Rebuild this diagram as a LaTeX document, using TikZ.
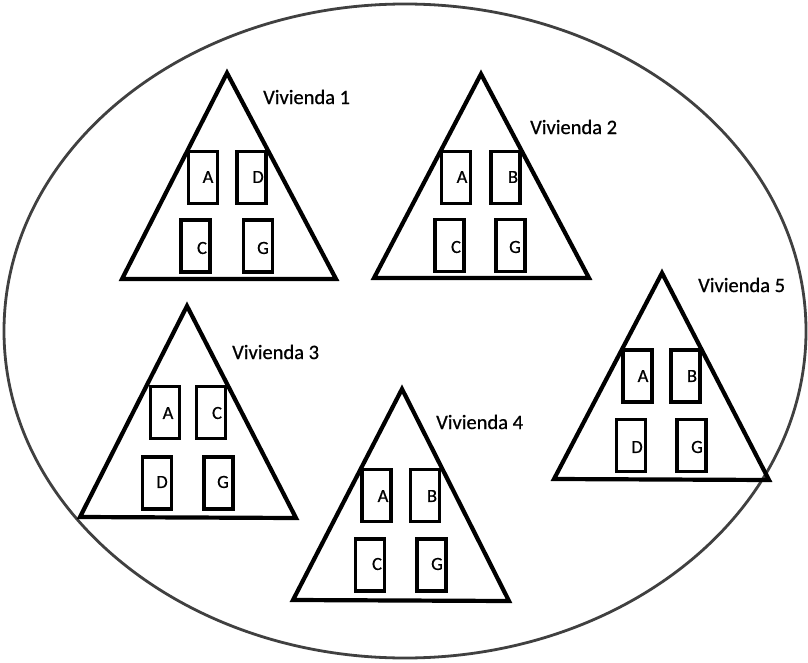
\documentclass[tikz,border=0pt]{standalone}
\usepackage{fontspec}
\setmainfont{Carlito}
\newfontfamily\scanfont[FakeBold=0.7]{Carlito}
\begin{document}
\begin{tikzpicture}[x=1pt,y=-1pt,
  roof/.style={line width=4.2pt, line join=miter, draw=black},
  door/.style={draw=black, line width=3.8pt, rectangle, inner sep=0pt, minimum width=29pt, minimum height=52pt},
  lbl/.style={font=\scanfont\fontsize{18.5}{18.5}\selectfont, inner sep=0pt},
  title/.style={font=\scanfont\fontsize{20.5}{20.5}\selectfont, anchor=west, inner sep=0pt},
  barrio/.style={draw=black!75, line width=2.8pt}]
\useasboundingbox (0,0) rectangle (808,663);
\fill[white] (0,0) rectangle (808,663);
% enclosing ellipse
\coordinate (ctr) at (405,331);
\draw[barrio] (ctr) ellipse [x radius=401pt, y radius=327pt];

% ---- Vivienda 1
\coordinate (h1t) at (227,73);
\coordinate (h1l) at (122,279);
\coordinate (h1r) at (336,279);
\draw[roof] (h1t) -- (h1l) -- (h1r) -- cycle;
\node[door] (h1a) at (203,177.5) {};
\node[door] (h1b) at (251.5,177.5) {};
\node[door] (h1c) at (195.5,246) {};
\node[door] (h1d) at (258,246) {};
\node[lbl] at (208,177) {A};
\node[lbl] at (258,177) {D};
\node[lbl] at (202,248) {C};
\node[lbl] at (263,248) {G};
\node[title] (n1) at (263,97) {Vivienda 1};

% ---- Vivienda 2
\coordinate (h2t) at (481,74);
\coordinate (h2l) at (374,278);
\coordinate (h2r) at (589,278);
\draw[roof] (h2t) -- (h2l) -- (h2r) -- cycle;
\node[door] (h2a) at (456,177.5) {};
\node[door] (h2b) at (505.5,177.5) {};
\node[door] (h2c) at (449.5,245.5) {};
\node[door] (h2d) at (510.5,245.5) {};
\node[lbl] at (462,177) {A};
\node[lbl] at (513,177) {B};
\node[lbl] at (456,247) {C};
\node[lbl] at (515,247) {G};
\node[title] (n2) at (530,127) {Vivienda 2};

% ---- Vivienda 3
\coordinate (h3t) at (187,306);
\coordinate (h3l) at (80,517);
\coordinate (h3r) at (296,518);
\draw[roof] (h3t) -- (h3l) -- (h3r) -- cycle;
\node[door] (h3a) at (165,412.5) {};
\node[door] (h3b) at (211,412.5) {};
\node[door] (h3c) at (157,483) {};
\node[door] (h3d) at (218.5,483) {};
\node[lbl] at (168,413) {A};
\node[lbl] at (217,413) {C};
\node[lbl] at (162,482) {D};
\node[lbl] at (223,482) {G};
\node[title] (n3) at (232,352) {Vivienda 3};

% ---- Vivienda 4
\coordinate (h4t) at (402,389);
\coordinate (h4l) at (293,600);
\coordinate (h4r) at (509,601);
\draw[roof] (h4t) -- (h4l) -- (h4r) -- cycle;
\node[door] (h4a) at (376.5,495.5) {};
\node[door] (h4b) at (425,495.5) {};
\node[door] (h4c) at (370,565) {};
\node[door] (h4d) at (431.5,565) {};
\node[lbl] at (383,496) {A};
\node[lbl] at (432,496) {B};
\node[lbl] at (377,564) {C};
\node[lbl] at (437,564) {G};
\node[title] (n4) at (436,422) {Vivienda 4};

% ---- Vivienda 5
\coordinate (h5t) at (662,273);
\coordinate (h5l) at (554,479);
\coordinate (h5r) at (769,480);
\draw[roof] (h5t) -- (h5l) -- (h5r) -- cycle;
\node[door] (h5a) at (637.5,376) {};
\node[door] (h5b) at (685.5,376) {};
\node[door] (h5c) at (631,445.5) {};
\node[door] (h5d) at (691.5,445.5) {};
\node[lbl] at (643,376) {A};
\node[lbl] at (692,376) {B};
\node[lbl] at (637,447) {D};
\node[lbl] at (697,447) {G};
\node[title] (n5) at (698,285) {Vivienda 5};
\end{tikzpicture}
\end{document}
